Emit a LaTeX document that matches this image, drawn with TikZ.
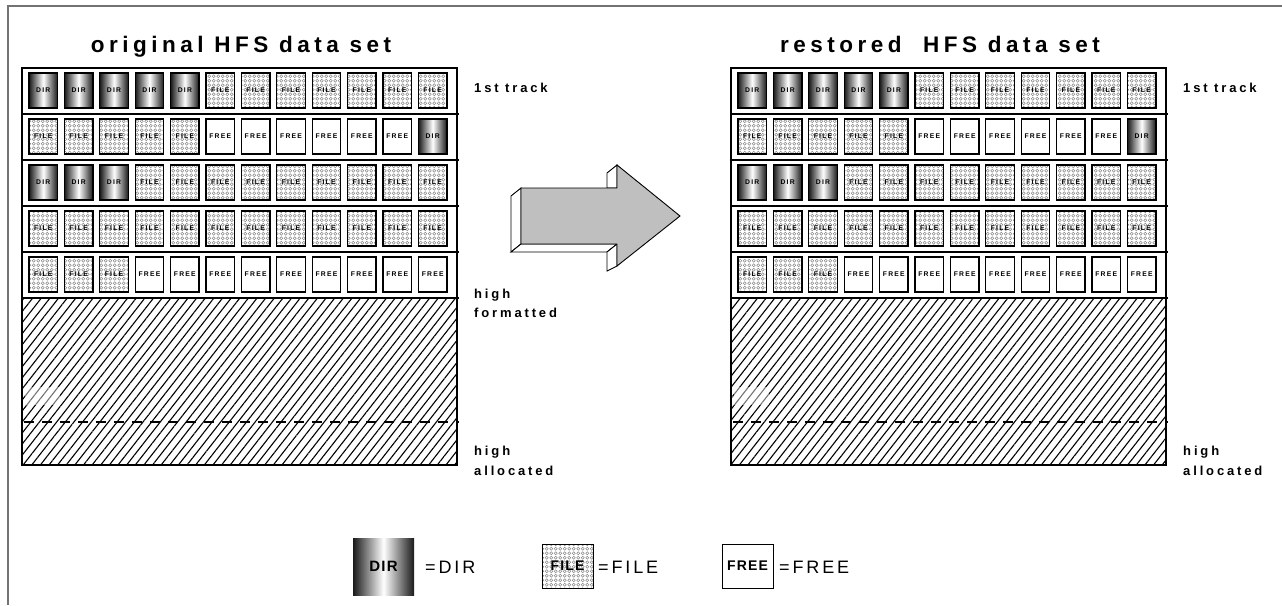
\documentclass[tikz,border=0pt]{standalone}
\usepackage{fontspec}
\setmainfont{Liberation Sans}
\newfontfamily\ftitle[LetterSpace=20]{Liberation Sans Bold}
\newfontfamily\flab[LetterSpace=22]{Liberation Sans Bold}
\newfontfamily\fblk[LetterSpace=18]{Liberation Sans Bold}
\newfontfamily\fleg[LetterSpace=16]{Liberation Sans}
\newfontfamily\flegbox[LetterSpace=8]{Liberation Sans Bold}
\usetikzlibrary{patterns,patterns.meta}

\pgfdeclarepatternformonly{smallcircles}{\pgfpoint{-0.5pt}{-0.5pt}}{\pgfpoint{5pt}{5pt}}{\pgfpoint{4.5pt}{4.5pt}}{%
  \pgfsetlinewidth{0.4pt}\pgfpathcircle{\pgfpoint{2.25pt}{2.25pt}}{1.5pt}\pgfusepath{stroke}}

\newcommand\blkrow[3]{% #1 panel prefix, #2 row, #3 list
  \foreach \kind [count=\i from 0] in {#3} {
    \node[blk\kind] (#1-#2-\i) at ({43.25+35.4*\i},{68+46*#2+22.5}) {\kind};
  }}

\newcommand\panelbody[1]{%
  \fill[pattern={Lines[angle=52,distance=6.8pt,line width=1.1pt]}] (22,298) rectangle (457,465);
  \fill[white,opacity=0.45] (25,387) rectangle (60,405);
  \draw[dashline] (24,422) -- (459,422);
  \foreach \yy in {114,160,206,252} \draw[rowline] (22,\yy) -- (459,\yy);
  \draw[line width=2.6pt] (22,298) -- (459,298);
  \draw[line width=2.6pt] (22,68) rectangle (457,465);
  \blkrow{#1}{0}{DIR,DIR,DIR,DIR,DIR,FILE,FILE,FILE,FILE,FILE,FILE,FILE}
  \blkrow{#1}{1}{FILE,FILE,FILE,FILE,FILE,FREE,FREE,FREE,FREE,FREE,FREE,DIR}
  \blkrow{#1}{2}{DIR,DIR,DIR,FILE,FILE,FILE,FILE,FILE,FILE,FILE,FILE,FILE}
  \blkrow{#1}{3}{FILE,FILE,FILE,FILE,FILE,FILE,FILE,FILE,FILE,FILE,FILE,FILE}
  \blkrow{#1}{4}{FILE,FILE,FILE,FREE,FREE,FREE,FREE,FREE,FREE,FREE,FREE,FREE}
}

\begin{document}
\begin{tikzpicture}[x=1pt,y=-1pt,
  blkbase/.style={minimum width=28.5pt,minimum height=35pt,inner sep=0pt,draw=black,line width=1.3pt,text=black,
    font=\fblk\fontsize{6.8}{7}\selectfont},
  blkDIR/.style={blkbase,left color=black!90,right color=black!90,middle color=white,text=black},
  blkFILE/.style={blkbase,pattern=smallcircles,pattern color=black!45},
  blkFREE/.style={blkbase,fill=white},
  title/.style={font=\ftitle\fontsize{22.5}{25}\selectfont,inner sep=0pt,anchor=base},
  lab/.style={font=\flab\fontsize{13}{15}\selectfont,inner sep=0pt,anchor=base west},
  leg/.style={font=\fleg\fontsize{18}{20}\selectfont,inner sep=0pt,anchor=west},
  rowline/.style={line width=1.8pt},
  dashline/.style={line width=1.4pt,dash pattern=on 10pt off 8pt},
  frameline/.style={draw=black!55,line width=2pt},
  arrowside/.style={fill=white,draw=black,line width=0.9pt,line join=miter},
]
\useasboundingbox (0,0) rectangle (1282,605);
\draw[frameline] (1282,5.5) -- (8,5.5) -- (8,605);

% titles
\node[title] (t-left) at (241,52) {original HFS data set};
\node[title] (t-right) at (940,52) {restored\ \ HFS data set};

% panels
\begin{scope}
  \panelbody{L}
\end{scope}
\begin{scope}[xshift=709pt]
  \panelbody{R}
\end{scope}

% side labels
\node[lab] (l-track) at (474,92) {1st track};
\node[lab] (l-high1) at (474,298) {high};
\node[lab] (l-form) at (474,317) {formatted};
\node[lab] (l-high2) at (474,455) {high};
\node[lab] (l-alloc) at (474,475) {allocated};
\node[lab] (r-track) at (1183,92) {1st track};
\node[lab] (r-high2) at (1183,455) {high};
\node[lab] (r-alloc) at (1183,475) {allocated};

% 3D arrow
\filldraw[arrowside] (521,188) -- (511,196) -- (511,252) -- (521,244) -- cycle;
\filldraw[arrowside] (511,252) -- (521,244) -- (617,244) -- (607,252) -- cycle;
\filldraw[arrowside] (607,173) -- (617,165) -- (617,188) -- (607,188) -- cycle;
\filldraw[arrowside] (607,252) -- (617,244) -- (617,266) -- (607,271) -- cycle;
\filldraw[fill=black!25,draw=black,line width=0.9pt,line join=miter]
  (521,188) -- (617,188) -- (617,165) -- (680,216) -- (617,266) -- (617,244) -- (521,244) -- cycle;

% legend
\node[minimum width=61pt,minimum height=57pt,inner sep=0pt,left color=black!90,right color=black!90,middle color=white,
  text=black,font=\flegbox\fontsize{15}{17}\selectfont] (leg-dir) at (383.5,566.5) {DIR};
\node[leg] (leg-dir-t) at (425,567) {=DIR};
\node[minimum width=51pt,minimum height=44pt,inner sep=0pt,draw=black,line width=0.8pt,pattern=smallcircles,pattern color=black!45,
  font=\flegbox\fontsize{14}{16}\selectfont] (leg-file) at (567.5,566) {FILE};
\node[leg] (leg-file-t) at (598,567) {=FILE};
\node[minimum width=51pt,minimum height=44pt,inner sep=0pt,draw=black,line width=0.8pt,fill=white,
  font=\flegbox\fontsize{14}{16}\selectfont] (leg-free) at (747.5,566) {FREE};
\node[leg] (leg-free-t) at (779,567) {=FREE};
\end{tikzpicture}
\end{document}
